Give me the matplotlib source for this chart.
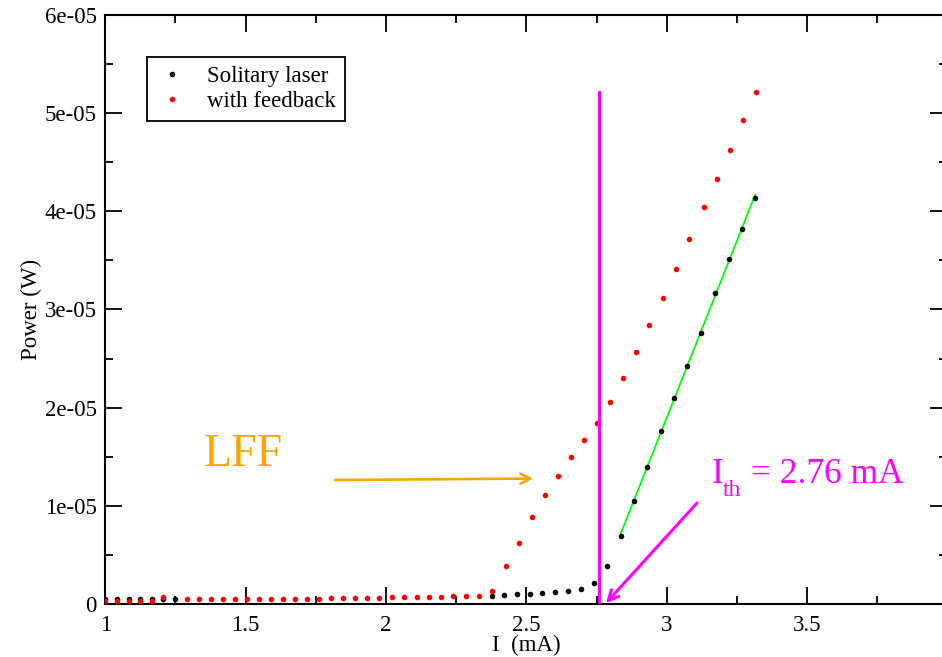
import numpy as np
import matplotlib
matplotlib.use('Agg')
from matplotlib import pyplot as plt

plt.rcParams['font.family'] = ['Liberation Serif', 'DejaVu Serif']

# solitary laser P-I curve (mA, W)
solitary_I = [1.0, 1.042, 1.084, 1.124, 1.166, 1.206, 1.248,
              2.377, 2.421, 2.467, 2.512, 2.557, 2.603, 2.648, 2.694, 2.740, 2.786,
              2.836, 2.884, 2.931, 2.979, 3.026, 3.073, 3.121, 3.173, 3.221, 3.268, 3.316]
solitary_P = [4.8e-7, 4.8e-7, 4.8e-7, 4.8e-7, 4.8e-7, 5.1e-7, 5.1e-7,
              8.5e-7, 9.2e-7, 9.9e-7, 1.02e-6, 1.09e-6, 1.19e-6, 1.32e-6, 1.56e-6, 2.17e-6, 3.87e-6,
              6.96e-6, 1.049e-5, 1.399e-5, 1.759e-5, 2.101e-5, 2.427e-5, 2.757e-5, 3.168e-5,
              3.514e-5, 3.823e-5, 4.136e-5]

# laser with optical feedback
feedback_I = [1.0, 1.042, 1.084, 1.124, 1.166, 1.206,
              1.291, 1.334, 1.377, 1.419, 1.462, 1.505,
              1.548, 1.590, 1.633, 1.676, 1.719, 1.761,
              1.804, 1.847, 1.890, 1.932, 1.975,
              2.021, 2.064, 2.110, 2.153, 2.196,
              2.240, 2.285, 2.332,
              2.378, 2.426, 2.474, 2.521, 2.568, 2.614, 2.660, 2.706, 2.751,
              2.797, 2.844, 2.892, 2.938, 2.986, 3.032, 3.078,
              3.132, 3.179, 3.226, 3.272, 3.319]
feedback_P = [3.1e-7, 3.1e-7, 3.1e-7, 3.1e-7, 3.1e-7, 7.4e-7,
              5.1e-7, 5.1e-7, 5.1e-7, 5.1e-7, 5.1e-7, 5.1e-7,
              5.6e-7, 5.6e-7, 5.6e-7, 5.6e-7, 5.6e-7, 5.6e-7,
              6.1e-7, 6.1e-7, 6.1e-7, 6.1e-7, 6.1e-7,
              6.8e-7, 6.8e-7, 6.8e-7, 6.8e-7, 6.8e-7,
              8.1e-7, 8.1e-7, 8.1e-7,
              1.35e-6, 3.87e-6, 6.24e-6, 8.86e-6, 1.107e-5, 1.307e-5, 1.500e-5, 1.668e-5, 1.841e-5,
              2.055e-5, 2.305e-5, 2.572e-5, 2.842e-5, 3.117e-5, 3.416e-5, 3.718e-5,
              4.044e-5, 4.326e-5, 4.625e-5, 4.930e-5, 5.212e-5]

I_th = 2.76
x_ticks = [1, 1.5, 2, 2.5, 3, 3.5, 4]
x_labels = ['1', '1.5', '2', '2.5', '3', '3.5', '4']
y_ticks = [0, 1e-5, 2e-5, 3e-5, 4e-5, 5e-5, 6e-5]
y_labels = ['0', '1e-05', '2e-05', '3e-05', '4e-05', '5e-05', '6e-05']

fs = 16.5
magenta = '#ff00ff'
orange = '#ffa500'

fig = plt.figure(figsize=(9.42, 6.57), dpi=100)
ax = fig.add_axes([105.3 / 942, 53 / 657, 842.1 / 942, 589 / 657])

# linear fit of the lasing part of the solitary curve
I_arr = np.array(solitary_I)
P_arr = np.array(solitary_P)
above = I_arr > 2.83
slope, icpt = np.polyfit(I_arr[above], P_arr[above], 1)
fit_x = np.array([I_arr[above][0], I_arr[above][-1]])
ax.plot(fit_x, slope * fit_x + icpt, color='#00ff00', lw=1.3, zorder=1)

ax.plot(solitary_I, solitary_P, ls='none', marker='o', ms=4.0, mew=0,
        color='black', label='Solitary laser', zorder=2)
ax.plot(feedback_I, feedback_P, ls='none', marker='o', ms=4.0, mew=0,
        color='#ff0000', label='with feedback', zorder=3)

# threshold marker
ax.plot([I_th, I_th], [0, 5.215e-5], color=magenta, lw=2.2, zorder=4)

ax.annotate('', xy=(2.784, 0.01e-5), xytext=(3.108, 1.029e-5),
            arrowprops=dict(arrowstyle='->', color=magenta, lw=2.2,
                            shrinkA=0, shrinkB=0, mutation_scale=18), zorder=5)
ax.annotate('', xy=(2.525, 1.278e-5), xytext=(1.818, 1.263e-5),
            arrowprops=dict(arrowstyle='->', color=orange, lw=1.9,
                            shrinkA=0, shrinkB=0, mutation_scale=18), zorder=5)

ax.text(1.3516, 1.409e-5, 'LFF', color=orange, fontsize=33,
        ha='left', va='baseline')
# I_th label, subscript set lower by hand
ax.text(3.1603, 1.2295e-5, 'I', color=magenta, fontsize=25.5,
        ha='left', va='baseline')
ax.text(3.2000, 1.100e-5, 'th', color=magenta, fontsize=17,
        ha='left', va='baseline')
ax.text(3.3000, 1.2295e-5, '= 2.76 mA', color=magenta, fontsize=25.5,
        ha='left', va='baseline')

ax.set_xlim(1, 4)
ax.set_ylim(0, 6e-5)
ax.set_xticks(x_ticks)
ax.set_xticklabels(x_labels)
ax.set_yticks(y_ticks)
ax.set_yticklabels(y_labels)
ax.set_xticks(np.arange(1.25, 4, 0.5), minor=True)
ax.set_yticks(np.arange(0.5e-5, 6e-5, 1e-5), minor=True)
ax.tick_params(which='both', direction='in', top=True, right=True,
               labelsize=fs, width=1.3, color='black')
ax.tick_params(which='major', length=12)
ax.tick_params(which='minor', length=6)
ax.tick_params(axis='x', pad=8)
ax.tick_params(axis='y', pad=6)
for sp in ax.spines.values():
    sp.set_linewidth(1.5)

ax.set_xlabel('I  (mA)', fontsize=fs, labelpad=-1)
ax.set_ylabel('Power (W)', fontsize=fs, labelpad=2)

leg = ax.legend(loc='upper left', bbox_to_anchor=(0.0492, 0.9282),
                borderaxespad=0, fontsize=fs, frameon=True, fancybox=False,
                edgecolor='black', framealpha=1, handlelength=1.43,
                handletextpad=0.79, borderpad=0.4, labelspacing=0.15,
                markerscale=1.0)
leg.get_frame().set_linewidth(1.3)

fig.savefig('out.png', dpi=100)
